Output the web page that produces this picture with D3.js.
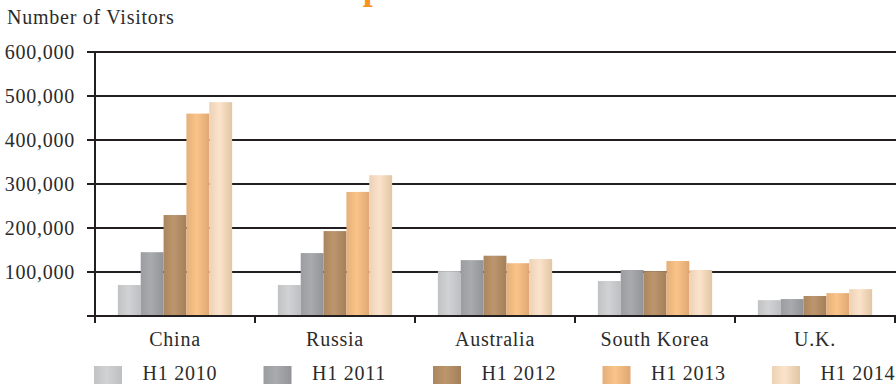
<!DOCTYPE html>
<html><head><meta charset="utf-8">
<script src="https://cdn.jsdelivr.net/npm/d3@7"></script>
<style>
html,body{margin:0;padding:0;background:#fff;}
svg{display:block;font-family:"Liberation Serif","Times New Roman",serif;}
</style></head>
<body><svg id="chart" width="896" height="385"></svg>
<script>
const categories = ["China", "Russia", "Australia", "South Korea", "U.K."];
const seriesNames = ["H1 2010", "H1 2011", "H1 2012", "H1 2013", "H1 2014"];
const h1_2010 = [70500, 70500, 102000, 79500, 36000];
const h1_2011 = [145000, 143000, 127000, 104500, 38500];
const h1_2012 = [229500, 193000, 137000, 102000, 45500];
const h1_2013 = [460000, 282000, 120000, 125000, 52000];
const h1_2014 = [486000, 320000, 129500, 104500, 61000];
const yTicks = [0, 100000, 200000, 300000, 400000, 500000, 600000];
const seriesValues = [h1_2010, h1_2011, h1_2012, h1_2013, h1_2014];
// gradient stops per series: [left, mid, right]
const seriesColors = [
  ["#c1c2c4", "#d1d2d4", "#bebfc1"],
  ["#9b9da0", "#a8aaad", "#929497"],
  ["#ab865e", "#bc956c", "#a3805a"],
  ["#e6af7a", "#f8c489", "#e0a773"],
  ["#ecd2b5", "#fbe3cb", "#e2c6a4"]
];

const svg = d3.select("#chart");
const ink = "#231f20";
const txt = "#2b2b2b";
const fs = 20, ls = 0.75;

const defs = svg.append("defs");
seriesColors.forEach((c, i) => {
  const g = defs.append("linearGradient").attr("id", "grad" + i)
    .attr("x1", "0%").attr("x2", "100%").attr("y1", "0%").attr("y2", "0%");
  g.append("stop").attr("offset", "0%").attr("stop-color", c[0]);
  g.append("stop").attr("offset", "45%").attr("stop-color", c[1]);
  g.append("stop").attr("offset", "100%").attr("stop-color", c[2]);
});

const x0 = d3.scaleBand().domain(categories).range([95, 895]).paddingInner(0).paddingOuter(0);
const x1 = d3.scaleBand().domain(seriesNames).range([0, x0.bandwidth()]).paddingInner(0).paddingOuter(1.0);
const y = d3.scaleLinear().domain([0, 600000]).range([316, 52]);

// title (cut off at top, as in the reference)
svg.append("text").attr("x", 324).attr("y", -1)
  .attr("fill", "#f7941e").attr("font-size", 36).attr("font-weight", "bold")
  .text("Top 5 Source Markets");

// y-axis title
svg.append("text").attr("x", 7).attr("y", 24).attr("font-size", fs).attr("letter-spacing", ls).attr("fill", txt)
  .text("Number of Visitors");

// gridlines
svg.append("g").selectAll("line").data(yTicks).join("line")
  .attr("x1", 87).attr("x2", 896)
  .attr("y1", d => y(d)).attr("y2", d => y(d))
  .attr("stroke", ink).attr("stroke-width", 2);

// tick labels
svg.append("g").selectAll("text").data(yTicks.filter(d => d > 0)).join("text")
  .attr("x", 75).attr("y", d => y(d)).attr("dy", "0.34em")
  .attr("text-anchor", "end").attr("font-size", fs).attr("letter-spacing", ls).attr("fill", txt)
  .text(d => d3.format(",")(d));

// bars
const groups = svg.append("g").selectAll("g").data(categories).join("g")
  .attr("transform", d => `translate(${x0(d)},0)`);
groups.selectAll("rect").data((d, ci) => seriesNames.map((s, si) => ({s, si, v: seriesValues[si][ci]})))
  .join("rect")
  .attr("x", d => x1(d.s)).attr("width", x1.bandwidth())
  .attr("y", d => y(d.v)).attr("height", d => y(0) - y(d.v))
  .attr("fill", d => `url(#grad${d.si})`);

// baseline over bars
svg.append("line").attr("x1", 87).attr("x2", 896).attr("y1", y(0)).attr("y2", y(0))
  .attr("stroke", ink).attr("stroke-width", 2);
// vertical axis
svg.append("line").attr("x1", 95).attr("x2", 95).attr("y1", 52).attr("y2", 323)
  .attr("stroke", ink).attr("stroke-width", 2);
// category ticks
svg.append("g").selectAll("line").data(categories).join("line")
  .attr("x1", d => x0(d) + x0.bandwidth()).attr("x2", d => x0(d) + x0.bandwidth())
  .attr("y1", y(0)).attr("y2", 323)
  .attr("stroke", ink).attr("stroke-width", 2);

// category labels
svg.append("g").selectAll("text").data(categories).join("text")
  .attr("x", d => x0(d) + x0.bandwidth() / 2).attr("y", 346)
  .attr("text-anchor", "middle").attr("font-size", fs).attr("letter-spacing", ls).attr("fill", txt)
  .text(d => d);

// legend
const legend = svg.append("g").selectAll("g").data(seriesNames).join("g")
  .attr("transform", (d, i) => `translate(${94 + i * 169.5},366)`);
legend.append("rect").attr("width", 28).attr("height", 18)
  .attr("fill", (d, i) => `url(#grad${i})`);
legend.append("text").attr("x", 48.5).attr("y", 14).attr("font-size", fs).attr("letter-spacing", ls).attr("fill", txt)
  .text(d => d);
</script></body></html>
